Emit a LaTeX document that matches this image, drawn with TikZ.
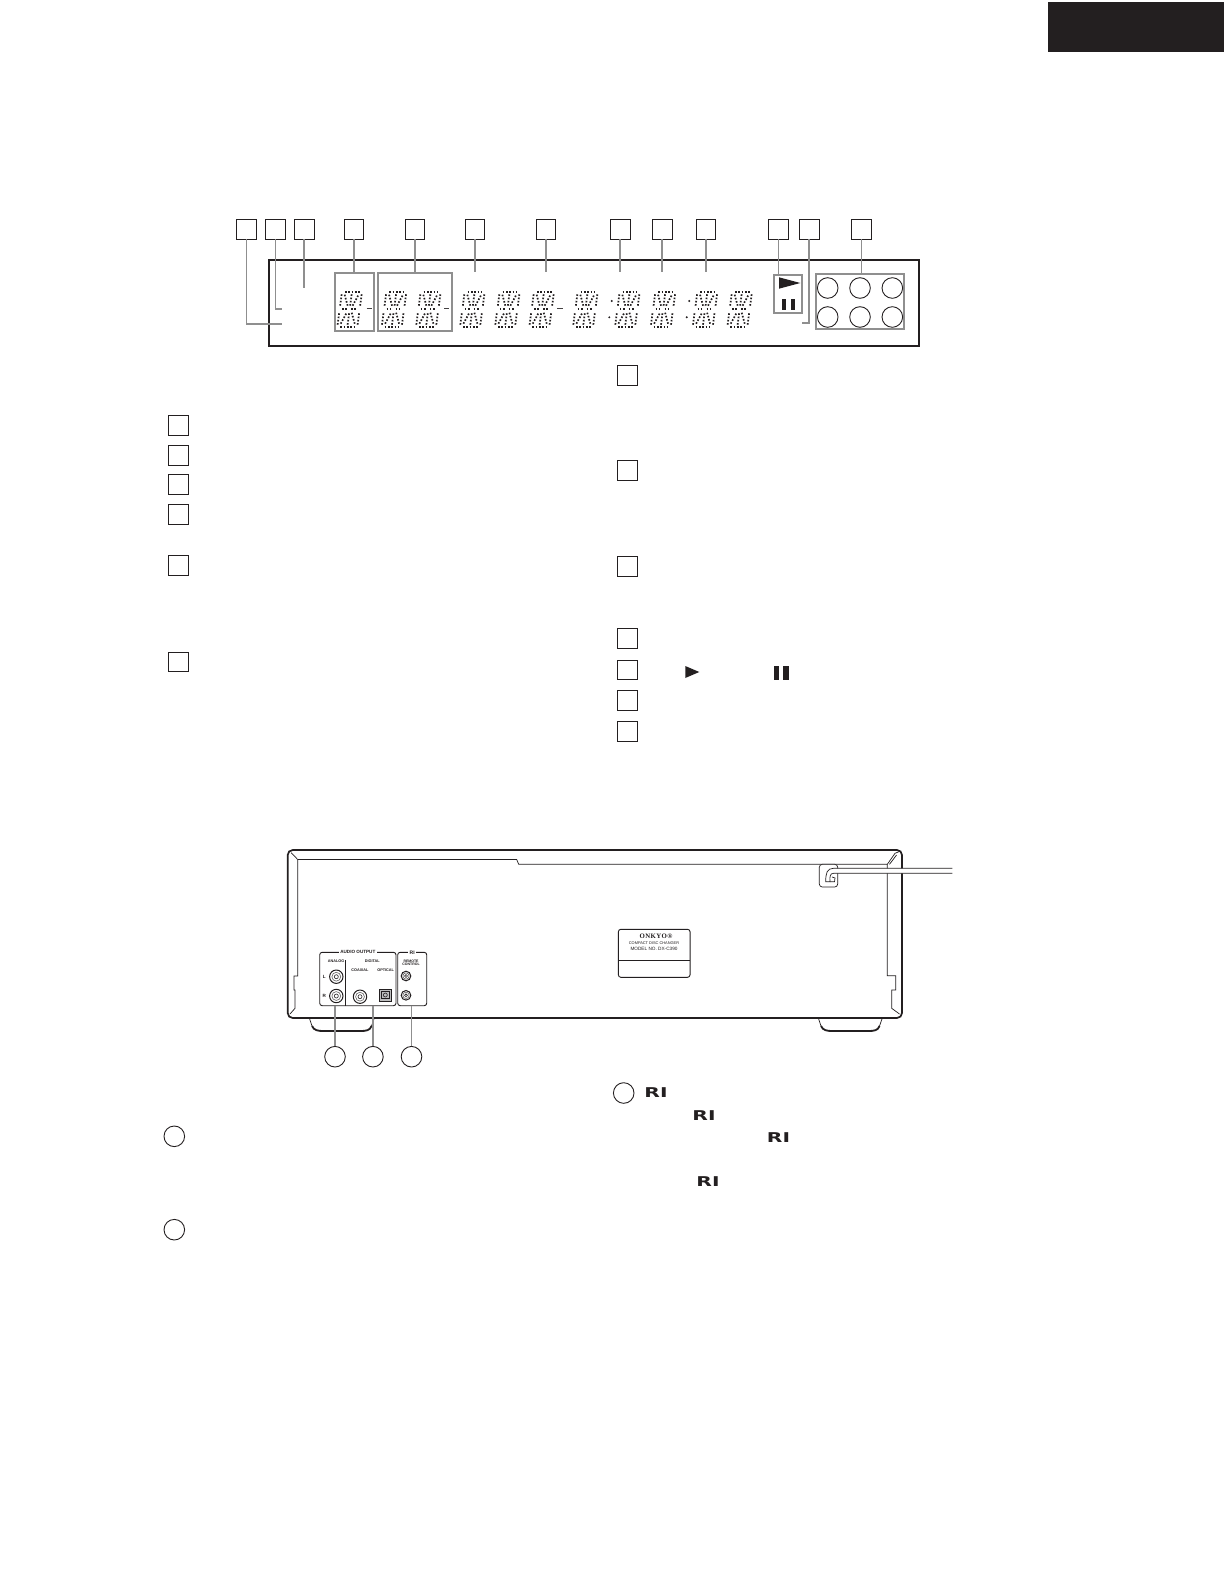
\documentclass[tikz,border=0pt]{standalone}
\usepackage{fontspec}
\setmainfont{Liberation Sans}
\newfontfamily\badgeserif[LetterSpace=6]{Liberation Serif}
\newfontfamily\logofont{DejaVu Sans}
\definecolor{inkblack}{HTML}{231F20}
\definecolor{leadgray}{HTML}{8F8F8F}
\tikzset{
  numbox/.style={draw=inkblack, line width=1pt, minimum size=19.5pt, inner sep=0pt, outer sep=0pt},
  numring/.style={draw=inkblack, circle, line width=0.9pt, minimum size=20.6pt, inner sep=0pt, outer sep=0pt},
  leader/.style={draw=leadgray, line width=1.7pt},
  groupbox/.style={draw=leadgray, line width=1.9pt, inner sep=0pt, outer sep=0pt},
  segdots/.style={draw=inkblack, line width=1.7pt, dash pattern=on 1.6pt off 1.7pt},
  jackbox/.style={draw=inkblack, rounded corners=2.5pt, line width=0.9pt, inner sep=0pt, outer sep=0pt},
  tinytext/.style={font=\fontsize{4.6}{4.8}\selectfont\bfseries, inner sep=0pt, align=center, text=inkblack},
  rilogo/.style={font=\logofont\fontsize{13.5}{14}\selectfont\bfseries, inner sep=0pt, xscale=1.5, transform shape, text=inkblack},
  chassis/.style={draw=inkblack, line width=0.7pt}
}
\newcommand{\dispdigit}[2]{
  \begin{scope}[shift={(#1,#2)}, xslant=0.135, y=1pt]
    \draw [segdots] (3,35) -- (17.5,35);
    \draw [segdots] (3,0) -- (17.5,0);
    \draw [segdots] (2.5,17.5) -- (8.5,17.5);
    \draw [segdots] (11.5,17.5) -- (18,17.5);
    \foreach \xa in {0,10,20} {
      \draw [segdots] (\xa,21) -- (\xa,33);
      \draw [segdots] (\xa,2) -- (\xa,14.5);
    }
    \draw [segdots] (3,32) -- (7.5,21);
    \draw [segdots] (12.5,21) -- (17,32);
    \draw [segdots] (3,3) -- (7.5,14);
    \draw [segdots] (12.5,14) -- (17,3);
  \end{scope}
}
\newcommand{\jackring}[3]{
  \draw [inkblack, line width=1.0pt] (#1,#2) circle (#3);
  \draw [inkblack!70, line width=0.6pt] (#1,#2) circle (#3*0.66);
  \draw [inkblack, line width=0.6pt] (#1,#2) circle (#3*0.3);
}
\begin{document}
\begin{tikzpicture}[x=1pt, y=-1pt]
  \useasboundingbox (0,0) rectangle (1226,1586);
  \fill [inkblack] (1048,2) rectangle (1224,52);

  % display window
  \draw [inkblack, line width=2.3pt] (269,260) rectangle (919,346);
  \foreach \xd in {337.3,381.7,416,460,495,529.3,573,615,650.7,692.7,727.3} {
    \dispdigit{\xd}{326.7}
  }
  \foreach \xd in {366.7,444,557.3} {
    \draw [inkblack!85, line width=1pt] (\xd,309) -- ++(5.2,0);
  }
  \foreach \xd/\yd in {611.7/301,609.3/317.3,689.3/301,686.7/317.3} {
    \fill [inkblack] (\xd,\yd) circle (1.1);
  }
  \node [groupbox, minimum width=39.6pt, minimum height=58.3pt] (grpa) at (354.5,301.8) {};
  \node [groupbox, minimum width=74.3pt, minimum height=58.3pt] (grpb) at (414.8,301.8) {};
  \node [groupbox, minimum width=28pt, minimum height=38.3pt] (grpplay) at (788,293.8) {};
  \node [groupbox, minimum width=88pt, minimum height=55pt] (grpdisc) at (860,301.2) {};
  \fill [inkblack] (779,277.3) -- (779,288.7) -- (800.3,283) -- cycle;
  \fill [inkblack] (782.3,299.3) rectangle (786.3,310);
  \fill [inkblack] (791,299.3) rectangle (795,310);
  \foreach \xd in {827.7,860,892.3} {
    \foreach \yd in {288,317} {
      \draw [inkblack, line width=0.9pt] (\xd,\yd) circle (10.3);
    }
  }

  % numbered boxes above the display
  \node [numbox] (ka) at (246.5,229.3) {};
  \node [numbox] (kb) at (275.5,229.3) {};
  \node [numbox] (kc) at (304.3,229.3) {};
  \node [numbox] (kd) at (354,229.3) {};
  \node [numbox] (ke) at (415,229.3) {};
  \node [numbox] (kf) at (475,229.3) {};
  \node [numbox] (kg) at (546,229.3) {};
  \node [numbox] (kh) at (620.3,229.3) {};
  \node [numbox] (ki) at (662.3,229.3) {};
  \node [numbox] (kj) at (706,229.3) {};
  \node [numbox] (kk) at (778.5,229.3) {};
  \node [numbox] (kl) at (809.3,229.3) {};
  \node [numbox] (km) at (861.5,229.3) {};

  \coordinate (enda) at (282,324);
  \coordinate (endb) at (282,308.7);
  \coordinate (endc) at (304.3,287.7);
  \coordinate (endf) at (475,272.5);
  \coordinate (endg) at (546,272.5);
  \coordinate (endh) at (620.3,272.5);
  \coordinate (endi) at (662.3,272.5);
  \coordinate (endj) at (706,272.5);
  \coordinate (endl) at (802.3,322.7);
  \draw [leader] (ka.south) |- (enda);
  \draw [leader] (kb.south) |- (endb);
  \draw [leader] (kc.south) to (endc);
  \draw [leader] (kd.south) to (kd.south |- grpa.north);
  \draw [leader] (ke.south) to (ke.south |- grpb.north);
  \draw [leader] (kf.south) to (endf);
  \draw [leader] (kg.south) to (endg);
  \draw [leader] (kh.south) to (endh);
  \draw [leader] (ki.south) to (endi);
  \draw [leader] (kj.south) to (endj);
  \draw [leader] (kk.south) to (kk.south |- grpplay.north);
  \draw [leader] (kl.south) |- (endl);
  \draw [leader] (km.south) to (km.south |- grpdisc.north);

  % left and right lists
  \node [numbox] (la) at (178.5,425.3) {};
  \node [numbox] (lb) at (178.5,455.3) {};
  \node [numbox] (lc) at (178.5,484.3) {};
  \node [numbox] (ld) at (178.5,514.3) {};
  \node [numbox] (le) at (178.5,565.5) {};
  \node [numbox] (lf) at (178.5,662) {};
  \node [numbox] (ra) at (627.5,375.3) {};
  \node [numbox] (rb) at (627.5,470.3) {};
  \node [numbox] (rc) at (627.5,566.3) {};
  \node [numbox] (rd) at (627.5,638.3) {};
  \node [numbox] (re) at (627.5,670) {};
  \node [numbox] (rf) at (627.5,700.5) {};
  \node [numbox] (rg) at (627.5,731.5) {};
  \fill [inkblack] (685.3,666) -- (685.3,678) -- (699.3,672) -- cycle;
  \fill [inkblack] (774,666) rectangle (779.3,680);
  \fill [inkblack] (783.3,666) rectangle (789,680);

  % rear panel
  \draw [chassis] (309.3,1018) -- (312,1026);
  \draw [chassis] (374.3,1018) -- (371.5,1026);
  \draw [inkblack, line width=1.8pt] (312,1026) .. controls (314,1030.5) and (318,1031) .. (324,1031) -- (360,1031) .. controls (366,1031) and (370,1030.5) .. (371.5,1026);
  \draw [chassis] (818.3,1018) -- (821,1026);
  \draw [chassis] (882.3,1018) -- (879.5,1026);
  \draw [inkblack, line width=1.8pt] (821,1026) .. controls (823,1030.5) and (827,1031) .. (833,1031) -- (868,1031) .. controls (874,1031) and (878,1030.5) .. (879.5,1026);
  \draw [inkblack, line width=1.7pt, rounded corners=5pt, fill=white] (287.7,850) rectangle (902,1018);
  \draw [chassis] (297.7,859.5) -- (516.7,859.5) -- (518.7,864.3) -- (887.3,864.3) -- (887.3,975.7) -- (895.7,975.7) -- (895.7,990) -- (891.7,990) -- (891.7,1008.3) -- (899.5,1014);
  \draw [chassis] (297.7,859.5) -- (297.7,976) -- (294,976) -- (294,990) -- (295,990) -- (295,1008.3) -- (290,1014);
  \draw [chassis] (297.7,859.5) -- (291,852.5);
  \draw [chassis] (887.3,864.3) -- (895,853.3) -- (899.5,851.5);
  \draw [chassis] (889.5,864.3) -- (896.5,855);

  % cord and bush
  \draw [chassis, rounded corners=3pt, fill=white] (819.3,864.3) rectangle (837.7,887);
  \draw [chassis, fill=white] (952.3,868.3) -- (833.5,868.3) .. controls (827,868.3) and (825.7,873) .. (825.7,881.7) -- (830,881.7) .. controls (829.5,877) and (830,873.3) .. (833.5,873.3) -- (952.3,873.3);
  \draw [chassis] (830,881.7) -- (834.5,881.7) -- (835,878) -- (832,877);

  % rating badge
  \node [jackbox, fill=white, minimum width=71.7pt, minimum height=48pt] (badge) at (654.2,953.3) {};
  \coordinate (badgemid) at (654.2,960.3);
  \draw [inkblack, line width=0.7pt] (badgemid -| badge.west) to (badgemid -| badge.east);
  \node [inner sep=0pt, text=inkblack, font=\badgeserif\fontsize{6.8}{7}\selectfont\bfseries] (brand) at (656,936.3) {ONKYO®};
  \node [tinytext, font=\fontsize{3.9}{4}\selectfont] (prod) at (654,943) {COMPACT DISC CHANGER};
  \node [tinytext, font=\fontsize{4.7}{5}\selectfont] (modl) at (654,949.2) {MODEL NO. DX-C390};

  % jack panels
  \node [jackbox, minimum width=76.3pt, minimum height=53.4pt] (audio) at (357.85,979) {};
  \node [jackbox, minimum width=29pt, minimum height=53.4pt] (rione) at (412.2,979) {};
  \node [tinytext, fill=white, inner xsep=1.5pt] (audiolbl) at (audio.north) {AUDIO OUTPUT};
  \node [tinytext, fill=white, inner xsep=1.5pt, font=\fontsize{5}{5}\selectfont\bfseries] (rilbl) at (rione.north) {RI};
  \coordinate (divtop) at (345.7,960);
  \draw [inkblack, line width=1.3pt] (divtop) to (divtop |- audio.south);
  \node [tinytext, font=\fontsize{3.8}{4}\selectfont\bfseries] (analog) at (336,961.3) {ANALOG};
  \node [tinytext, font=\fontsize{3.8}{4}\selectfont\bfseries] (digi) at (372.3,961.3) {DIGITAL};
  \node [tinytext, font=\fontsize{3.8}{4}\selectfont\bfseries] (coax) at (360,970) {COAXIAL};
  \node [tinytext, font=\fontsize{3.8}{4}\selectfont\bfseries] (opti) at (385.7,970) {OPTICAL};
  \node [tinytext] (chl) at (324.3,976.7) {L};
  \node [tinytext] (chr) at (324.3,995.7) {R};
  \node [tinytext, font=\fontsize{3.5}{4}\selectfont\bfseries] (remo) at (411,962.8) {REMOTE\\[-0.3pt]CONTROL};
  \jackring{336.3}{976.7}{6.7}
  \jackring{336.3}{996}{6.7}
  \jackring{360}{996.7}{6.7}
  \jackring{406}{976}{4.8}
  \jackring{406}{995.3}{4.8}
  \draw [inkblack, line width=0.9pt, fill=black!25] (379,989) rectangle (391.7,1001);
  \draw [inkblack, line width=0.6pt] (381.5,991.5) rectangle (389.2,998.5);
  \draw [inkblack, line width=0.6pt] (385.3,995) circle (2);

  % circled markers
  \node [numring] (pa) at (335,1056.7) {};
  \node [numring] (pb) at (372.9,1056.7) {};
  \node [numring] (pc) at (411.5,1056.7) {};
  \draw [leader] (pa.north) to (pa.north |- audio.south);
  \draw [leader] (pb.north) to (pb.north |- audio.south);
  \draw [leader] (pc.north) to (pc.north |- rione.south);
  \node [numring] (qa) at (174.3,1136.3) {};
  \node [numring] (qb) at (174.3,1229.7) {};
  \node [numring] (qc) at (623.7,1093) {};
  \node [rilogo] (ria) at (656,1093) {RI};
  \node [rilogo] (rib) at (704,1115.5) {RI};
  \node [rilogo] (ric) at (778.5,1137.5) {RI};
  \node [rilogo] (rid) at (708,1181.5) {RI};
\end{tikzpicture}
\end{document}
